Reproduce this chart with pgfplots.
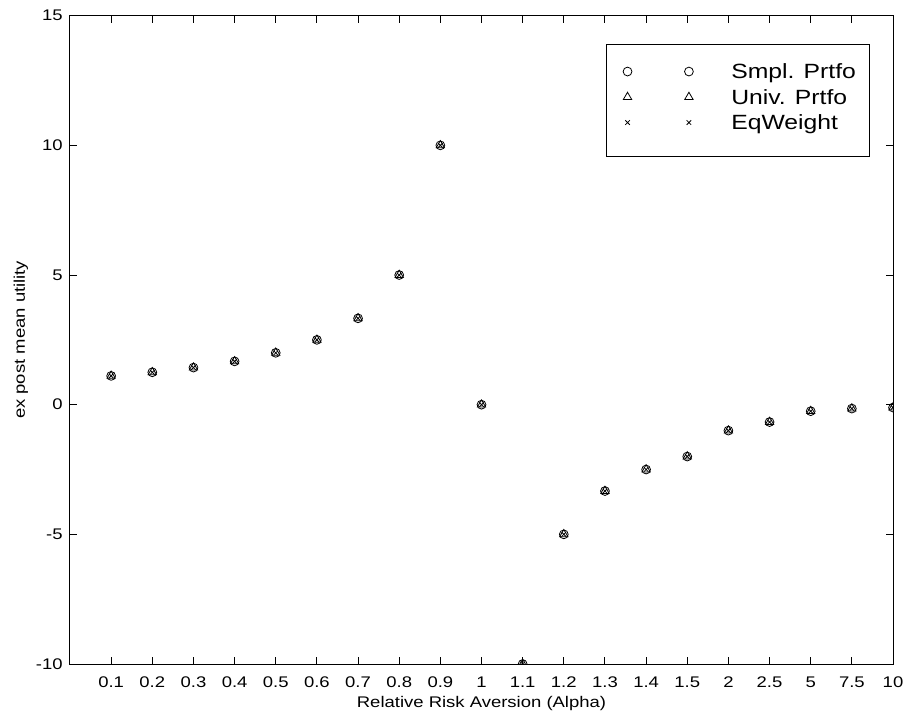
\documentclass[border=0pt]{standalone}
\usepackage{pgfplots}
\pgfplotsset{compat=1.18}
\usepackage{fontspec}
\setmainfont{Liberation Sans}[FakeStretch=1.2]
\begin{document}
\begin{tikzpicture}
\begin{axis}[
 at={(0,0)}, anchor=south west,
 scale only axis, width=411.5pt, height=324.15pt,
 xmin=0, xmax=20, ymin=-10, ymax=15,
 xtick={1,...,20},
 xticklabels={0.1,0.2,0.3,0.4,0.5,0.6,0.7,0.8,0.9,1,1.1,1.2,1.3,1.4,1.5,2,2.5,5,7.5,10},
 ytick={-10,-5,0,5,10,15},
 tick align=inside, major tick length=3.5pt,
 tick style={black, line width=0.5pt},
 axis line style={line width=0.5pt},
 /pgf/number format/assume math mode=true,
 ticklabel style={font=\fontsize{7.7}{9}\selectfont},
 xticklabel style={anchor=base, yshift=-11.7pt},
 yticklabel style={anchor=east, inner sep=0pt, xshift=-3.5pt},
 xlabel={Relative Risk Aversion (Alpha)},
 ylabel={ex post mean utility},
 label style={font=\fontsize{7.7}{9}\selectfont},
 xlabel style={at={(axis description cs:0.5,-0.06695)}, anchor=base},
 ylabel style={at={(axis description cs:-0.05468,0.5)}, anchor=base},
 clip marker paths=true,
 legend style={at={(axis description cs:0.6513,0.9563)}, anchor=north west, draw=black, line width=0.5pt, inner xsep=7pt, inner ysep=9pt, row sep=0.25pt, column sep=0pt, font=\fontsize{10.3}{12}\selectfont, nodes={inner sep=0pt, text height=8pt, text depth=4.5pt, anchor=base west}},
 legend cell align=left,
 legend image code/.code={
   \path (-3.3pt,0pt) (51.7pt,0pt);
   \draw[#1, only marks] plot coordinates {(0pt,3.5pt) (30.7pt,3.5pt)};
 },
]
\addplot[only marks, black, mark=o, mark size=2.2pt, line width=0.4pt] coordinates {
(1,1.11) (2,1.25) (3,1.43) (4,1.67) (5,2.0) (6,2.5) (7,3.33) (8,5.0) (9,10.0) (10,0.0)
(11,-10.0) (12,-5.0) (13,-3.33) (14,-2.5) (15,-2.0) (16,-1.0) (17,-0.67) (18,-0.25) (19,-0.15) (20,-0.11)};
\addlegendentry{Smpl. Prtfo}
\addplot[only marks, black, mark=triangle, mark size=2.4pt, line width=0.4pt] coordinates {
(1,1.11) (2,1.25) (3,1.43) (4,1.67) (5,2.0) (6,2.5) (7,3.33) (8,5.0) (9,10.0) (10,0.0)
(11,-10.0) (12,-5.0) (13,-3.33) (14,-2.5) (15,-2.0) (16,-1.0) (17,-0.67) (18,-0.25) (19,-0.15) (20,-0.11)};
\addlegendentry{Univ. Prtfo}
\addplot[only marks, black, mark=x, mark size=1.6pt, line width=0.4pt] coordinates {
(1,1.11) (2,1.25) (3,1.43) (4,1.67) (5,2.0) (6,2.5) (7,3.33) (8,5.0) (9,10.0) (10,0.0)
(11,-10.0) (12,-5.0) (13,-3.33) (14,-2.5) (15,-2.0) (16,-1.0) (17,-0.67) (18,-0.25) (19,-0.15) (20,-0.11)};
\addlegendentry{EqWeight}
\end{axis}
\pgfresetboundingbox
\path (-35pt,-27.5pt) rectangle (420pt,332pt);
\end{tikzpicture}
\end{document}
